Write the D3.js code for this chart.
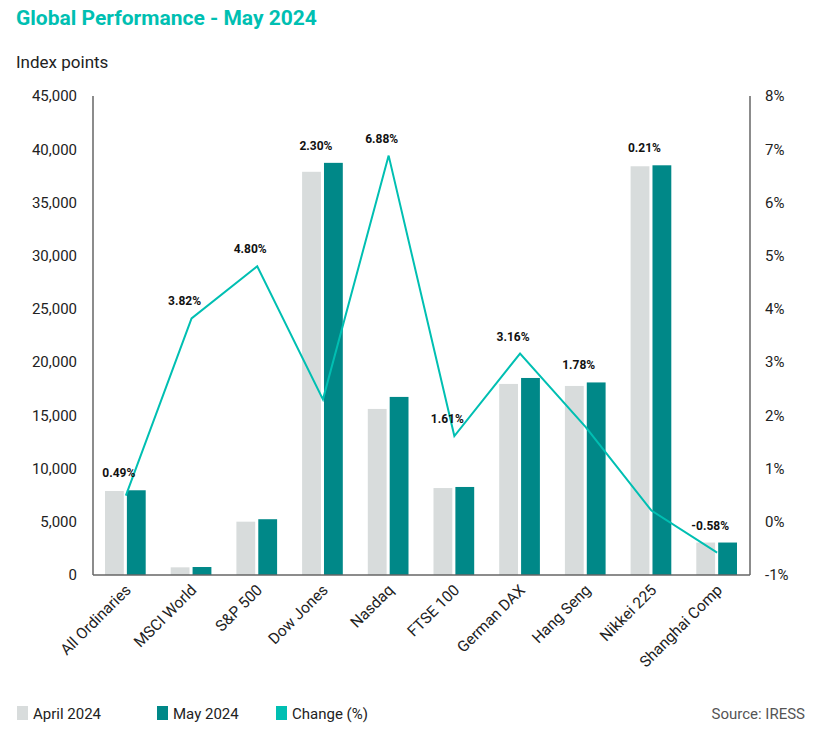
<!DOCTYPE html>
<html>
<head>
<meta charset="utf-8">
<script src="https://cdn.jsdelivr.net/npm/d3@7"></script>
<style>
  body { margin: 0; background: #fff; }
  text { font-family: Roboto, "Noto Sans", sans-serif; }
</style>
</head>
<body>
<div id="chart"></div>
<script>
// chart values
var categories = ['All Ordinaries', 'MSCI World', 'S&P 500', 'Dow Jones', 'Nasdaq',
                  'FTSE 100', 'German DAX', 'Hang Seng', 'Nikkei 225', 'Shanghai Comp'];
var april2024 = [7890, 720, 5010, 37880, 15600, 8170, 17950, 17760, 38400, 3050];
var may2024   = [7960, 750, 5240, 38720, 16730, 8270, 18510, 18090, 38490, 3050];
var changePct = [0.49, 3.82, 4.80, 2.30, 6.88, 1.61, 3.16, 1.78, 0.21, -0.58];
var leftTicks  = [0, 5000, 10000, 15000, 20000, 25000, 30000, 35000, 40000, 45000];
var rightTicks = [-1, 0, 1, 2, 3, 4, 5, 6, 7, 8];

(function() {
var W = 815, H = 734;
var pLeft = 93, pRight = 750, pTop = 96, pBottom = 575;

var svg = d3.select('#chart').append('svg')
  .attr('width', W)
  .attr('height', H);

var x0 = d3.scaleBand().domain(categories).range([pLeft, pRight]);
var x1 = d3.scaleBand().domain(['apr', 'may'])
  .range([12, x0.bandwidth() - 13]).paddingInner(0.14);
var y = d3.scaleLinear().domain([0, 45000]).range([pBottom, pTop]);
var y2 = d3.scaleLinear().domain([-1, 8]).range([pBottom, pTop]);

// title
svg.append('text')
  .attr('x', 16).attr('y', 25)
  .attr('fill', '#00BFB2')
  .attr('font-size', 21)
  .attr('font-weight', 700)
  .text('Global Performance - May 2024');

svg.append('text')
  .attr('x', 16).attr('y', 68)
  .attr('fill', '#222')
  .attr('font-size', 17)
  .text('Index points');

// bars
var rows = categories.map(function(c, i) {
  return { name: c, apr: april2024[i], may: may2024[i], chg: changePct[i] };
});

var groups = svg.append('g').selectAll('g')
  .data(rows).enter().append('g')
  .attr('transform', function(d) { return 'translate(' + x0(d.name) + ',0)'; });

groups.append('rect')
  .attr('x', x1('apr'))
  .attr('width', x1.bandwidth())
  .attr('y', function(d) { return y(d.apr); })
  .attr('height', function(d) { return y(0) - y(d.apr); })
  .attr('fill', '#D8DCDC');

groups.append('rect')
  .attr('x', x1('may'))
  .attr('width', x1.bandwidth())
  .attr('y', function(d) { return y(d.may); })
  .attr('height', function(d) { return y(0) - y(d.may); })
  .attr('fill', '#008888');

// axes
var leftAxis = d3.axisLeft(y).tickValues(leftTicks).tickSize(0).tickPadding(16)
  .tickFormat(d3.format(','));
var gl = svg.append('g').attr('transform', 'translate(' + pLeft + ',0)').call(leftAxis);
gl.select('.domain').remove();
gl.selectAll('text').attr('font-size', 15).attr('fill', '#222')
  .style('font-family', 'Roboto, sans-serif');

var rightAxis = d3.axisRight(y2).tickValues(rightTicks).tickSize(0).tickPadding(15)
  .tickFormat(function(d) { return d + '%'; });
var gr = svg.append('g').attr('transform', 'translate(' + pRight + ',0)').call(rightAxis);
gr.select('.domain').remove();
gr.selectAll('text').attr('font-size', 15).attr('fill', '#222')
  .style('font-family', 'Roboto, sans-serif');

svg.append('line').attr('x1', pLeft).attr('x2', pLeft).attr('y1', pTop).attr('y2', pBottom)
  .attr('stroke', '#666').attr('stroke-width', 1.5);
svg.append('line').attr('x1', pRight).attr('x2', pRight).attr('y1', pTop).attr('y2', pBottom)
  .attr('stroke', '#666').attr('stroke-width', 1.5);
svg.append('line').attr('x1', pLeft).attr('x2', pRight).attr('y1', pBottom).attr('y2', pBottom)
  .attr('stroke', '#666').attr('stroke-width', 1.5);

// x labels
svg.append('g').selectAll('text')
  .data(categories).enter().append('text')
  .attr('transform', function(d) {
    return 'translate(' + (x0(d) + x0.bandwidth() / 2 + 6) + ',591) rotate(-45)';
  })
  .attr('text-anchor', 'end')
  .attr('font-size', 15.5)
  .attr('fill', '#222')
  .text(function(d) { return d; });

// change line
var line = d3.line()
  .x(function(d) { return x0(d.name) + x0.bandwidth() / 2; })
  .y(function(d) { return y2(d.chg); });

svg.append('path')
  .datum(rows)
  .attr('d', line)
  .attr('fill', 'none')
  .attr('stroke', '#00BFB2')
  .attr('stroke-width', 2);

// change labels
svg.append('g').selectAll('text')
  .data(rows).enter().append('text')
  .attr('x', function(d) { return x0(d.name) + x0.bandwidth() / 2 - 7; })
  .attr('y', function(d) {
    var t = Math.min(y(d.apr), y(d.may), y2(d.chg));
    return t - 13;
  })
  .attr('text-anchor', 'middle')
  .attr('font-size', 12)
  .attr('font-weight', 700)
  .attr('fill', '#111')
  .text(function(d) { return d.chg.toFixed(2) + '%'; });

// legend
var legend = [
  { label: 'April 2024', color: '#D8DCDC', x: 17 },
  { label: 'May 2024', color: '#008888', x: 157 },
  { label: 'Change (%)', color: '#00BFB2', x: 276 }
];
var lg = svg.append('g').selectAll('g').data(legend).enter().append('g')
  .attr('transform', function(d) { return 'translate(' + d.x + ',706)'; });
lg.append('rect').attr('width', 11).attr('height', 14).attr('fill', function(d) { return d.color; });
lg.append('text').attr('x', 16).attr('y', 13).attr('font-size', 15).attr('fill', '#222')
  .text(function(d) { return d.label; });

svg.append('text')
  .attr('x', 805).attr('y', 719)
  .attr('text-anchor', 'end')
  .attr('font-size', 15)
  .attr('fill', '#555')
  .text('Source: IRESS');
})();
</script>
</body>
</html>
